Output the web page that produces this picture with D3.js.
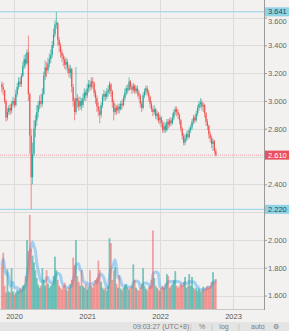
<!DOCTYPE html>
<html><head><meta charset="utf-8">
<script src="https://cdn.jsdelivr.net/npm/d3@7"></script>
<style>html,body{margin:0;padding:0;background:#f2f1f0;overflow:hidden}svg{display:block}</style>
</head><body>
<script>
const startDate = "2019-11-01";
const closes = [3.10,3.08,3.00,2.88,2.92,2.95,2.93,2.98,3.00,2.97,
 3.05,3.10,3.14,3.12,3.18,3.25,3.30,3.27,3.35,3.05,
 2.75,2.45,2.62,2.80,2.86,2.92,2.97,3.00,2.98,3.05,
 3.18,3.24,3.22,3.27,3.30,3.33,3.40,3.48,3.55,3.56,
 3.44,3.40,3.35,3.32,3.30,3.26,3.28,3.24,3.20,3.23,
 3.10,3.00,2.92,3.02,3.00,2.96,3.00,2.97,3.02,3.06,
 3.04,3.09,3.12,3.10,3.14,3.13,3.06,3.02,2.96,2.93,
 2.90,2.97,3.03,3.05,3.03,3.06,3.08,3.12,3.07,2.99,
 2.92,2.95,2.93,2.96,2.94,2.98,2.97,3.02,3.06,3.09,
 3.08,3.14,3.10,3.08,3.11,3.07,3.09,3.06,3.04,2.98,
 2.95,3.04,3.07,3.09,3.06,3.03,2.98,2.94,2.92,2.94,
 2.89,2.91,2.86,2.88,2.84,2.79,2.82,2.79,2.85,2.83,
 2.86,2.84,2.88,2.92,2.94,2.92,2.90,2.86,2.80,2.75,
 2.70,2.73,2.76,2.74,2.79,2.81,2.85,2.88,2.86,2.91,
 2.95,2.98,2.99,2.96,2.97,2.91,2.85,2.82,2.76,2.73,
 2.69,2.71,2.64,2.61];
const highs = [3.14,3.13,3.07,3.01,2.95,2.97,2.98,3.00,3.03,3.02,
 3.08,3.13,3.17,3.17,3.20,3.28,3.33,3.34,3.37,3.47,
 3.06,2.80,2.70,2.86,2.90,2.97,3.00,3.04,3.05,3.09,
 3.21,3.29,3.28,3.31,3.34,3.37,3.43,3.52,3.58,3.641,
 3.57,3.46,3.42,3.37,3.34,3.32,3.31,3.30,3.26,3.26,
 3.24,3.12,3.02,3.245,3.05,3.03,3.03,3.02,3.05,3.09,
 3.08,3.12,3.15,3.15,3.17,3.17,3.14,3.08,3.04,2.99,
 2.96,2.99,3.05,3.08,3.07,3.09,3.11,3.14,3.13,3.08,
 3.01,2.98,2.97,2.98,2.98,3.00,3.01,3.04,3.09,3.11,
 3.12,3.17,3.15,3.12,3.13,3.12,3.11,3.11,3.08,3.05,
 3.00,3.06,3.09,3.11,3.11,3.08,3.04,3.00,2.96,2.97,
 2.95,2.93,2.92,2.90,2.89,2.86,2.85,2.84,2.87,2.87,
 2.88,2.88,2.91,2.94,2.96,2.96,2.94,2.91,2.87,2.81,
 2.77,2.76,2.78,2.79,2.81,2.83,2.87,2.90,2.90,2.93,
 2.97,3.00,3.02,3.01,2.99,2.98,2.92,2.87,2.83,2.78,
 2.75,2.73,2.72,2.66];
const lows = [3.06,3.04,2.98,2.85,2.86,2.90,2.90,2.91,2.96,2.95,
 2.96,3.03,3.08,3.10,3.10,3.17,3.23,3.24,3.26,3.00,
 2.62,2.22,2.40,2.60,2.74,2.82,2.88,2.94,2.95,2.96,
 3.04,3.15,3.17,3.20,3.24,3.27,3.31,3.38,3.46,3.52,
 3.40,3.35,3.31,3.28,3.25,3.23,3.22,3.20,3.17,3.16,
 3.06,2.96,2.86,2.90,2.95,2.93,2.94,2.93,2.95,3.00,
 3.00,3.02,3.06,3.07,3.08,3.09,3.03,2.98,2.92,2.89,
 2.84,2.88,2.95,3.00,3.00,3.01,3.03,3.05,3.03,2.95,
 2.86,2.90,2.90,2.91,2.91,2.93,2.94,2.96,3.00,3.04,
 3.05,3.07,3.08,3.05,3.06,3.05,3.05,3.03,3.01,2.95,
 2.92,2.94,3.02,3.04,3.04,3.00,2.95,2.92,2.89,2.90,
 2.87,2.86,2.84,2.83,2.81,2.77,2.77,2.77,2.78,2.80,
 2.81,2.82,2.83,2.86,2.90,2.89,2.87,2.83,2.78,2.72,
 2.68,2.68,2.71,2.72,2.73,2.77,2.79,2.83,2.84,2.85,
 2.89,2.93,2.95,2.93,2.92,2.88,2.82,2.79,2.73,2.70,
 2.66,2.64,2.62,2.60];
const volumes = [45,58,24,17,41,18,17,42,18,15,
 17,19,18,22,20,24,25,34,71,60,
 97,62,55,48,40,32,25,22,24,42,
 30,24,40,26,22,24,26,34,54,40,
 30,24,22,20,24,27,21,19,22,26,
 30,53,45,71,34,28,24,40,24,22,
 26,20,22,40,24,22,26,30,32,50,
 40,28,22,20,22,19,24,73,68,30,
 40,43,26,22,35,21,19,22,24,26,
 22,20,22,24,46,30,22,20,19,22,
 26,42,24,21,19,22,24,30,81,32,
 24,22,20,19,22,24,22,26,36,34,
 22,24,26,30,39,24,22,24,26,24,
 28,33,22,24,36,24,33,22,20,22,
 19,21,18,19,23,20,22,24,22,24,
 28,38,28,31];
const priceTicks = [3.6,3.4,3.2,3.0,2.8,2.6,2.4,2.2,2.0,1.8,1.6];
const hiddenTickLabels = [2.6, 2.2];
const yearTicks = ["2020","2021","2022","2023"];
const levelHigh = 3.641, levelLow = 2.220, lastPrice = 2.610;
const statusItems = [["09:03:27 (UTC+8)",133],["|",191],["%",202],["|",212],["log",224],["|",239],["auto",251],["|",264],["\u2699",276]];

const W = 289, H = 331, plotR = 264, plotB = 309;
const FONT = "Liberation Sans, Arial, sans-serif";
const parse = d3.timeParse("%Y-%m-%d");
const start = parse(startDate);
const data = closes.map((c,i)=>({
  date: d3.timeWeek.offset(start, i),
  open: i===0 ? 3.12 : closes[i-1], close: c, high: highs[i], low: lows[i], vol: volumes[i]
}));

const x = d3.scaleTime().domain([parse("2020-01-01"), parse("2023-01-01")]).range([14, 233]);
const y = d3.scaleLinear().domain([1.503, 3.726]).range([plotB, 0]);
const yv = d3.scaleLinear().domain([0, 100]).range([plotB, plotB-97]);

const svg = d3.select("body").append("svg").attr("width", W).attr("height", H);
svg.append("rect").attr("width",W).attr("height",H).attr("fill","#f2f1f0");

const grid = svg.append("g");
grid.selectAll("line.h").data(priceTicks).join("line")
  .attr("x1",0).attr("x2",plotR).attr("y1",d=>Math.round(y(d))+0.5).attr("y2",d=>Math.round(y(d))+0.5)
  .attr("stroke","#dcdbda").attr("stroke-width",1);
grid.selectAll("line.v").data(yearTicks).join("line")
  .attr("x1",d=>Math.round(x(parse(d+"-01-01")))+0.5).attr("x2",d=>Math.round(x(parse(d+"-01-01")))+0.5)
  .attr("y1",0).attr("y2",plotB).attr("stroke","#dcdbda");

const plot = svg.append("g");
plot.append("clipPath").attr("id","clip").append("rect").attr("width",plotR).attr("height",plotB);
const pg = plot.append("g").attr("clip-path","url(#clip)");

// volume MA (behind bars)
const up = d => d.close >= d.open;
const ma = data.map((d,i)=>{const s=data.slice(Math.max(0,i-4),i+1);return {date:d.date,v:d3.mean(s,e=>e.vol)};});
pg.append("path").datum(ma)
  .attr("d", d3.line().x(d=>x(d.date)).y(d=>yv(d.v)).curve(d3.curveMonotoneX))
  .attr("fill","none").attr("stroke","rgba(110,185,240,0.6)").attr("stroke-width",3);
// volume bars
pg.selectAll("rect.vol").data(data).join("rect")
  .attr("x", d=>x(d.date)-0.9).attr("width",1.8)
  .attr("y", d=>yv(d.vol)).attr("height", d=>plotB-yv(d.vol))
  .attr("fill", d=>up(d) ? "rgba(38,166,154,0.6)" : "rgba(239,83,80,0.5)");

// level lines
pg.append("line").attr("x1",0).attr("x2",plotR).attr("y1",y(levelHigh)).attr("y2",y(levelHigh)).attr("stroke","#8fd3e6").attr("stroke-width",1);
pg.append("line").attr("x1",0).attr("x2",plotR).attr("y1",y(levelLow)).attr("y2",y(levelLow)).attr("stroke","#8fd3e6").attr("stroke-width",1);
pg.append("line").attr("x1",0).attr("x2",plotR).attr("y1",y(lastPrice)).attr("y2",y(lastPrice)).attr("stroke","#f0a0a6").attr("stroke-width",1).attr("stroke-dasharray","1,1");

// candles
const cg = pg.append("g");
cg.selectAll("line.wick").data(data).join("line")
  .attr("x1",d=>x(d.date)).attr("x2",d=>x(d.date))
  .attr("y1",d=>y(d.high)).attr("y2",d=>y(d.low))
  .attr("stroke",d=>up(d)?"#26a69a":"#ef5350").attr("stroke-width",0.8).attr("opacity",0.8);
cg.selectAll("rect.body").data(data).join("rect")
  .attr("x",d=>x(d.date)-0.6).attr("width",1.2)
  .attr("y",d=>y(Math.max(d.open,d.close)))
  .attr("height",d=>Math.max(0.8, Math.abs(y(d.open)-y(d.close))))
  .attr("fill",d=>up(d)?"#26a69a":"#ef5350");

// borders
svg.append("line").attr("x1",plotR+0.5).attr("x2",plotR+0.5).attr("y1",0).attr("y2",plotB+1).attr("stroke","#9a9a9a");
svg.append("line").attr("x1",0).attr("x2",plotR).attr("y1",plotB+0.5).attr("y2",plotB+0.5).attr("stroke","#c8c8c8");

// right axis
const axisG = svg.append("g").attr("transform",`translate(${plotR},0)`);
const yAxis = d3.axisRight(y).tickValues(priceTicks).tickSize(3)
  .tickFormat(d => hiddenTickLabels.includes(d) ? "" : d3.format(".3f")(d));
axisG.call(yAxis);
axisG.select(".domain").remove();
axisG.selectAll(".tick line").attr("stroke","#9a9a9a");
axisG.selectAll(".tick text").attr("fill","#666").attr("font-size","7.5px").attr("font-family",FONT).attr("x",4)
  .attr("dy", d => d===3.6 ? "0.75em" : "0.32em");

function badge(v, bg, fg){
  const g = svg.append("g");
  g.append("rect").attr("x",plotR+1).attr("y",y(v)-4.5).attr("width",W-plotR-1).attr("height",9).attr("fill",bg);
  g.append("text").attr("x",plotR+4).attr("y",y(v)).attr("dy","0.35em").attr("fill",fg)
   .attr("font-size","7.5px").attr("font-family",FONT).text(d3.format(".3f")(v));
}
badge(levelHigh,"#8fd3e6","#2b4a55");
badge(levelLow,"#8fd3e6","#2b4a55");
badge(lastPrice,"#e8505b","#ffffff");

// time axis
const xAxis = d3.axisBottom(x).tickValues(yearTicks.map(d=>parse(d+"-01-01"))).tickSize(0).tickFormat(d3.timeFormat("%Y"));
const xg = svg.append("g").attr("transform",`translate(0,${plotB})`).call(xAxis);
xg.select(".domain").remove();
xg.selectAll(".tick text").attr("fill","#555").attr("font-size","7.5px").attr("font-family",FONT).attr("y",5);

// status bar
svg.append("rect").attr("x",0).attr("y",322).attr("width",W).attr("height",H-322).attr("fill","#e4e4e4");
svg.selectAll("text.st").data(statusItems).join("text")
  .attr("x",d=>d[1]).attr("y",327).attr("dy","0.35em")
  .attr("text-anchor",d=>d[0].length>3?"start":"middle")
  .attr("fill",d=>d[0]==="|"?"#bbb":"#7a7a7a").attr("font-size","7px")
  .attr("font-family",FONT).text(d=>d[0]);
</script>
</body></html>
